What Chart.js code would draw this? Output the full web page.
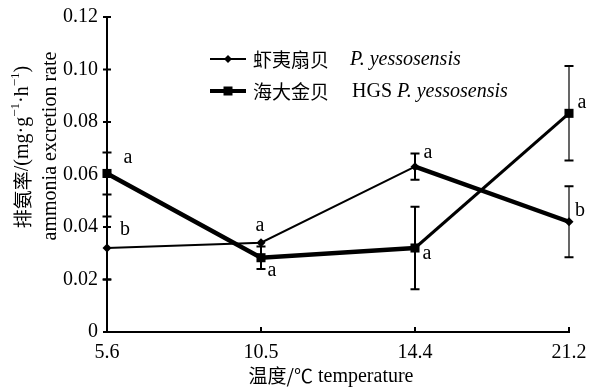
<!DOCTYPE html>
<html>
<head>
<meta charset="utf-8">
<script src="https://cdn.jsdelivr.net/npm/chart.js@4.4.1/dist/chart.umd.min.js"></script>
<style>
  html, body { margin: 0; padding: 0; background: #fff; }
  #wrap { width: 589px; height: 392px; position: relative; }
</style>
</head>
<body>
<div id="wrap"><canvas id="chart"></canvas></div>
<script>
// temperatures (x categories)
const temps = ['5.6', '10.5', '14.4', '21.2'];
const yTickLabels = ['0', '0.02', '0.04', '0.06', '0.08', '0.10', '0.12'];

// 虾夷扇贝 P. yessosensis
const ezhiMeans = [0.032, 0.034, 0.063, 0.042];
const ezhiErr = [0.012, 0, 0.005, 0.0135];
const ezhiLetters = ['b', 'a', 'a', 'b'];

// 海大金贝 HGS P. yessosensis
const hgsMeans = [0.0604, 0.0283, 0.032, 0.0833];
const hgsErr = [0.008, 0.0043, 0.0157, 0.018];
const hgsLetters = ['a', 'a', 'a', 'a'];

const serif = '"Liberation Serif", "Times New Roman", serif';
const cjk = '"Noto Sans CJK SC", sans-serif';

// styling per segment / per point
const ezhiSegWidth = [2, 2, 4.5];
const hgsSegWidth = [4.5, 4.5, 3];
const ezhiBarWidth = [2, 2, 2, 1.2];
const hgsBarWidth = [2, 2, 2, 1.2];
const ezhiLetterOffset = [[18, -18], [-1, -17], [13, -14], [11, -11]];
const hgsLetterOffset = [[21, -16], [11, 13], [12, 6], [13, -11]];

const errorBars = {
    id: 'errorBars',
    beforeDatasetsDraw(chart) {
        const ctx = chart.ctx;
        const y = chart.scales.y;
        const sets = [[ezhiErr, ezhiBarWidth], [hgsErr, hgsBarWidth]];
        sets.forEach((s, di) => {
            const meta = chart.getDatasetMeta(di);
            const vals = chart.data.datasets[di].data;
            meta.data.forEach((pt, i) => {
                const e = s[0][i];
                if (!e) return;
                const top = y.getPixelForValue(vals[i] + e);
                const bot = y.getPixelForValue(vals[i] - e);
                ctx.save();
                ctx.strokeStyle = '#000';
                ctx.lineWidth = s[1][i];
                ctx.beginPath();
                ctx.moveTo(pt.x, top);
                ctx.lineTo(pt.x, bot);
                ctx.stroke();
                ctx.lineWidth = 2;
                ctx.beginPath();
                ctx.moveTo(pt.x - 4.5, top);
                ctx.lineTo(pt.x + 4.5, top);
                ctx.moveTo(pt.x - 4.5, bot);
                ctx.lineTo(pt.x + 4.5, bot);
                ctx.stroke();
                ctx.restore();
            });
        });
    }
};

const decorations = {
    id: 'decorations',
    afterDraw(chart) {
        const ctx = chart.ctx;
        const area = chart.chartArea;
        const xs = chart.scales.x;
        const ys = chart.scales.y;
        ctx.save();
        ctx.strokeStyle = '#000';
        ctx.fillStyle = '#000';
        ctx.lineWidth = 2;

        // tick marks: crossing on y, inward on x
        ctx.beginPath();
        ys.ticks.forEach((t, i) => {
            const py = ys.getPixelForTick(i);
            ctx.moveTo(area.left - 4, py);
            ctx.lineTo(area.left + 4, py);
        });
        xs.ticks.forEach((t, i) => {
            const px = xs.getPixelForTick(i);
            ctx.moveTo(px, area.bottom);
            ctx.lineTo(px, area.bottom - 5);
        });
        ctx.stroke();

        // significance letters
        ctx.font = '20px ' + serif;
        ctx.textAlign = 'center';
        ctx.textBaseline = 'middle';
        [[0, ezhiLetters, ezhiLetterOffset], [1, hgsLetters, hgsLetterOffset]].forEach(([di, letters, off]) => {
            chart.getDatasetMeta(di).data.forEach((pt, i) => {
                ctx.fillText(letters[i], pt.x + off[i][0], pt.y + off[i][1]);
            });
        });

        // legend
        ctx.textAlign = 'left';
        const rows = [
            { y: 59, w: 2, marker: 'diamond', cn: '虾夷扇贝', plain: '', it: 'P. yessosensis', itX: 350 },
            { y: 91, w: 4, marker: 'square', cn: '海大金贝', plain: 'HGS ', it: 'P. yessosensis', itX: 352 }
        ];
        rows.forEach(r => {
            ctx.lineWidth = r.w;
            ctx.beginPath();
            ctx.moveTo(210, r.y);
            ctx.lineTo(246, r.y);
            ctx.stroke();
            ctx.beginPath();
            if (r.marker === 'diamond') {
                ctx.moveTo(228, r.y - 4);
                ctx.lineTo(232, r.y);
                ctx.lineTo(228, r.y + 4);
                ctx.lineTo(224, r.y);
                ctx.closePath();
            } else {
                ctx.rect(223.5, r.y - 4.5, 9, 9);
            }
            ctx.fill();
            ctx.font = '19px ' + cjk;
            ctx.fillText(r.cn, 253, r.y + 1);
            let x = r.itX;
            if (r.plain) {
                ctx.font = '20px ' + serif;
                ctx.fillText(r.plain, x, r.y + 1);
                x += ctx.measureText(r.plain).width;
            }
            ctx.font = 'italic 20px ' + serif;
            ctx.fillText(r.it, x, r.y + 1);
        });

        // x title
        const xt1 = '温度/℃';
        const xt2 = ' temperature';
        ctx.font = '19px ' + cjk;
        const w1 = ctx.measureText(xt1).width;
        ctx.font = '20px ' + serif;
        const w2 = ctx.measureText(xt2).width;
        const sx = 331 - (w1 + w2) / 2;
        ctx.textAlign = 'left';
        ctx.font = '19px ' + cjk;
        ctx.fillText(xt1, sx, 376);
        ctx.font = '20px ' + serif;
        ctx.fillText(xt2, sx + w1, 377);

        // y title (rotated, two lines)
        ctx.save();
        ctx.rotate(-Math.PI / 2);
        const parts = [
            { t: '排氨率', f: '19px ' + cjk, dy: 0 },
            { t: '/(mg·g', f: '20px ' + serif, dy: 0 },
            { t: '−1', f: '13px ' + serif, dy: -7 },
            { t: '·h', f: '20px ' + serif, dy: 0 },
            { t: '−1', f: '13px ' + serif, dy: -7 },
            { t: ')', f: '20px ' + serif, dy: 0 }
        ];
        let total = 0;
        parts.forEach(p => { ctx.font = p.f; p.w = ctx.measureText(p.t).width; total += p.w; });
        let pos = -147 - total / 2;
        parts.forEach(p => {
            ctx.font = p.f;
            ctx.fillText(p.t, pos, 23 + p.dy);
            pos += p.w;
        });
        ctx.font = '20px ' + serif;
        ctx.textAlign = 'center';
        ctx.fillText('ammonia excretion rate', -146, 51);
        ctx.restore();

        ctx.restore();
    }
};

new Chart(document.getElementById('chart'), {
    type: 'line',
    data: {
        labels: temps,
        datasets: [
            {
                label: '虾夷扇贝 P. yessosensis',
                data: ezhiMeans,
                borderColor: '#000',
                backgroundColor: '#000',
                borderWidth: 2,
                pointStyle: 'rectRot',
                pointRadius: 4.5,
                pointBorderWidth: 0,
                segment: { borderWidth: c => ezhiSegWidth[c.p0DataIndex] },
                tension: 0,
                clip: false
            },
            {
                label: '海大金贝 HGS P. yessosensis',
                data: hgsMeans,
                borderColor: '#000',
                backgroundColor: '#000',
                borderWidth: 4,
                pointStyle: 'rect',
                pointRadius: 6.4,
                pointBorderWidth: 0,
                segment: { borderWidth: c => hgsSegWidth[c.p0DataIndex] },
                tension: 0,
                clip: false
            }
        ]
    },
    options: {
        responsive: true,
        maintainAspectRatio: false,
        animation: false,
        layout: { padding: { left: 0, right: 20, top: 17, bottom: 0 } },
        plugins: {
            legend: { display: false },
            tooltip: { enabled: false }
        },
        scales: {
            x: {
                type: 'category',
                offset: false,
                grid: { display: false, drawTicks: false },
                border: { display: true, color: '#000', width: 2 },
                ticks: { color: '#000', font: { family: serif, size: 20 }, padding: 9, maxRotation: 0 },
                afterFit: s => {
                    s.height = 60;
                    s.paddingLeft = 0;
                    s.paddingRight = 0;
                }
            },
            y: {
                min: 0,
                max: 0.12,
                grid: { display: false, drawTicks: false },
                border: { display: true, color: '#000', width: 2 },
                ticks: {
                    stepSize: 0.02,
                    color: '#000',
                    font: { family: serif, size: 20 },
                    padding: 9,
                    callback: (v, i) => yTickLabels[i]
                },
                afterFit: s => {
                    s.width = 107;
                    s.paddingTop = 0;
                    s.paddingBottom = 0;
                }
            }
        }
    },
    plugins: [errorBars, decorations]
});
</script>
</body>
</html>
